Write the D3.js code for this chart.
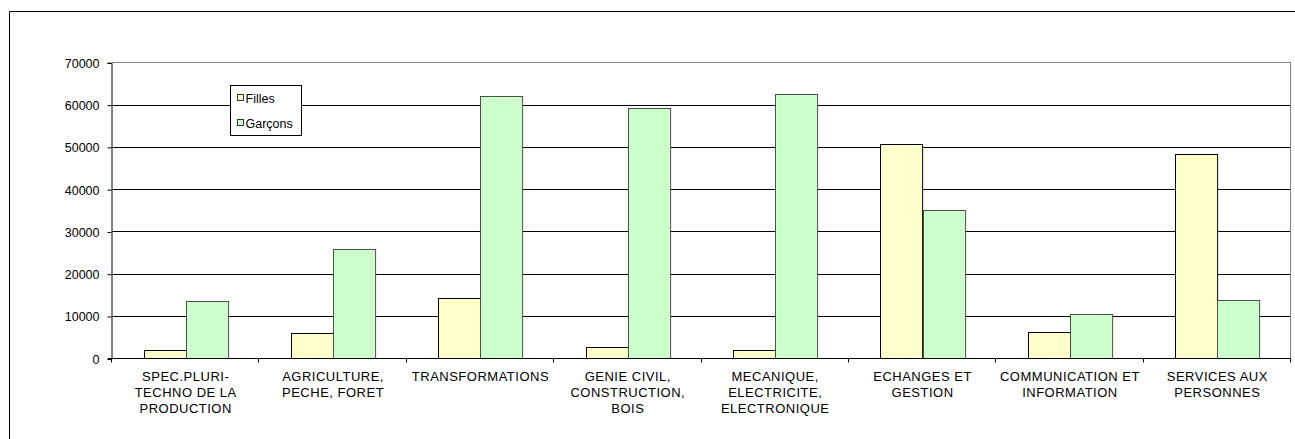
<!DOCTYPE html>
<html><head><meta charset="utf-8">
<script src="https://cdn.jsdelivr.net/npm/d3@7"></script>
<style>body{margin:0;background:#fff;} svg{display:block;font-family:"Liberation Sans",Arial,sans-serif;}</style>
</head><body>
<svg id="c" width="1295" height="439"></svg>
<script>
const categories = [
  ["SPEC.PLURI-","TECHNO DE LA","PRODUCTION"],
  ["AGRICULTURE,","PECHE, FORET"],
  ["TRANSFORMATIONS"],
  ["GENIE CIVIL,","CONSTRUCTION,","BOIS"],
  ["MECANIQUE,","ELECTRICITE,","ELECTRONIQUE"],
  ["ECHANGES ET","GESTION"],
  ["COMMUNICATION ET","INFORMATION"],
  ["SERVICES AUX","PERSONNES"]
];
const seriesNames = ["Filles","Garçons"];
const filles  = [1960, 5900, 14200, 2700, 1960, 50600, 6300, 48200];
const garcons = [13500, 25800, 62000, 59300, 62600, 35000, 10400, 13900];
const yTicks = [0,10000,20000,30000,40000,50000,60000,70000];
const fills = ["#FFFFCC","#CCFFCC"];
const strokes = ["#000000","#4d4d4d"];

const svg = d3.select("#c");
const L = 112, R = 1291, T = 62.3, B = 358.3;

// outer chart border
svg.append("path").attr("d","M9.5,439 V11.5 H1295").attr("fill","none").attr("stroke","#000").attr("stroke-width",1);

const x0 = d3.scaleBand().domain(d3.range(categories.length)).range([L,R]).paddingInner(0).paddingOuter(0);
const x1 = d3.scaleBand().domain([0,1]).range([0,x0.bandwidth()]).paddingInner(0).paddingOuter(0.75);
const y = d3.scaleLinear().domain([0,70000]).range([B,T]);

// gridlines
svg.append("g").selectAll("line").data(yTicks.filter(d=>d>0 && d<70000)).join("line")
  .attr("x1",L).attr("x2",R).attr("y1",d=>Math.round(y(d))+0.5).attr("y2",d=>Math.round(y(d))+0.5)
  .attr("stroke","#000").attr("stroke-width",1);
// plot border (top/right gray)
svg.append("path").attr("d",`M${L},${Math.round(T)+0.5} H${R-0.5} V${Math.round(B)}`).attr("fill","none").attr("stroke","#808080").attr("stroke-width",1);

// bars
const data = [filles, garcons];
const g = svg.append("g");
data.forEach((vals,si)=>{
  g.selectAll(null).data(vals).join("rect")
    .attr("x",(d,i)=>Math.round(x0(i)+x1(si))+0.5)
    .attr("width",x1.bandwidth())
    .attr("y",d=>Math.round(y(d))+0.5)
    .attr("height",d=>Math.round(B)-Math.round(y(d)))
    .attr("fill",fills[si]).attr("stroke",strokes[si]).attr("stroke-width",1);
});

// y axis
const yAxis = d3.axisLeft(y).tickValues(yTicks).tickSize(4).tickPadding(8).tickFormat(d3.format("d"));
const ya = svg.append("g").attr("transform",`translate(${L-0.5},0.5)`).call(yAxis);
ya.select(".domain").attr("stroke","#000");
ya.selectAll(".tick line").attr("stroke","#000");
ya.selectAll("text").attr("font-size",12.5).attr("fill","#000").attr("font-family","Liberation Sans, Arial, sans-serif").attr("dy","0.35em");

// x axis
const xa = svg.append("g").attr("transform",`translate(0,${Math.round(B)+0.5})`);
xa.append("line").attr("x1",L-4).attr("x2",R).attr("stroke","#000");
xa.selectAll("line.t").data(d3.range(categories.length+1)).join("line").attr("class","t")
  .attr("x1",i=>Math.round(i<categories.length?x0(i):R)-0.5).attr("x2",i=>Math.round(i<categories.length?x0(i):R)-0.5)
  .attr("y1",0).attr("y2",4).attr("stroke","#000");
categories.forEach((lines,i)=>{
  const t = xa.append("text").attr("text-anchor","middle").attr("font-size",13).attr("letter-spacing","0.5px").attr("fill","#000")
    .attr("x",x0(i)+x0.bandwidth()/2);
  lines.forEach((ln,k)=>t.append("tspan").attr("x",x0(i)+x0.bandwidth()/2).attr("y",22+k*16).text(ln));
});

// legend
const lg = svg.append("g").attr("transform","translate(230.5,85.5)");
lg.append("rect").attr("width",71).attr("height",50).attr("fill","#fff").attr("stroke","#000");
seriesNames.forEach((n,i)=>{
  lg.append("rect").attr("x",7).attr("y",9+i*25).attr("width",6).attr("height",6)
    .attr("fill",fills[i]).attr("stroke","#333");
  lg.append("text").attr("x",15).attr("y",17+i*25).attr("font-size",12.5).attr("fill","#000").text(n);
});
</script>
</body></html>
